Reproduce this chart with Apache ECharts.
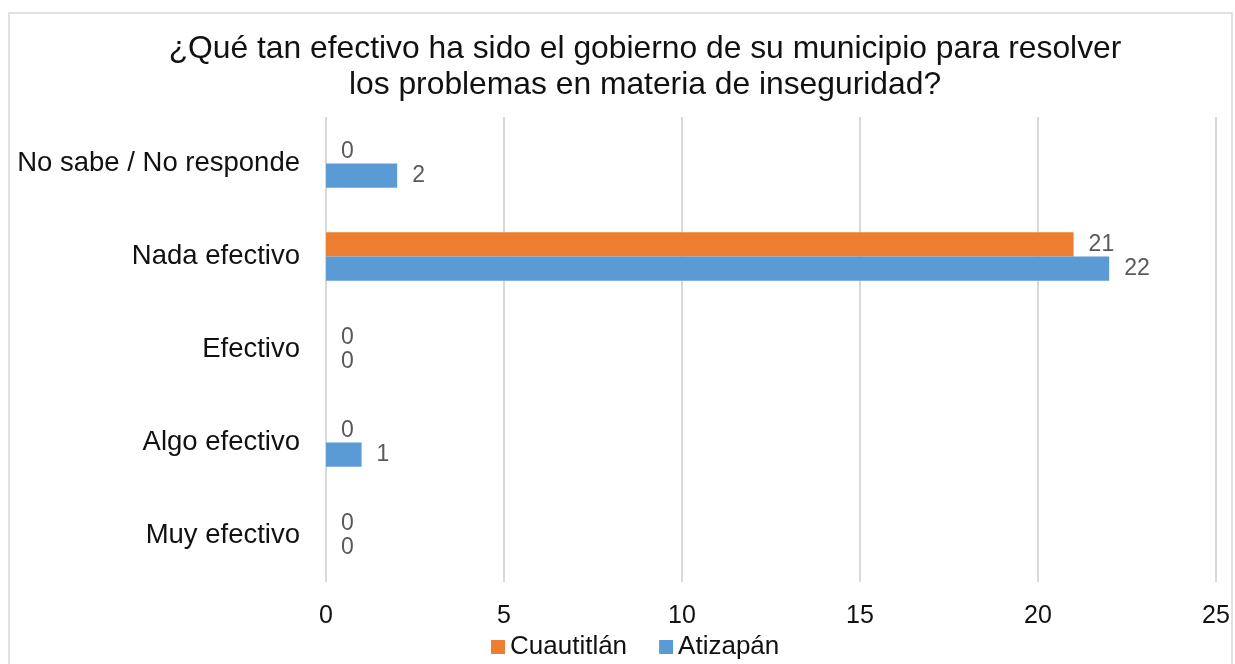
<!DOCTYPE html>
<html>
<head>
<meta charset="utf-8">
<script src="https://cdn.jsdelivr.net/npm/echarts@6/dist/echarts.min.js"></script>
<style>
  html, body { margin: 0; padding: 0; background: #fff; }
  #chart { width: 1235px; height: 664px; }
</style>
</head>
<body>
<div id="chart"></div>
<script>
// categories, bottom to top (as the y axis draws them)
const categorias = ['Muy efectivo', 'Algo efectivo', 'Efectivo', 'Nada efectivo', 'No sabe / No responde'];
const cuautitlan = [0, 0, 0, 21, 0];
const atizapan = [0, 1, 0, 22, 2];
const xTicks = [0, 5, 10, 15, 20, 25];

const font = "'Liberation Sans', Arial, sans-serif";
const chart = echarts.init(document.getElementById('chart'));

const labelOpt = {
    show: true,
    position: 'right',
    distance: 15,
    color: '#595959',
    fontSize: 23,
    fontFamily: font
};

chart.setOption({
    animation: false,
    title: {
        text: '¿Qué tan efectivo ha sido el gobierno de su municipio para resolver\nlos problemas en materia de inseguridad?',
        left: 640,
        top: 26,
        textAlign: 'center',
        textStyle: {
            fontSize: 31.8,
            fontWeight: 'normal',
            color: '#111',
            fontFamily: font,
            lineHeight: 36
        }
    },
    graphic: [{
        type: 'rect',
        shape: { x: 9, y: 13, width: 1223, height: 680 },
        style: { fill: 'none', stroke: '#d9d9d9', lineWidth: 1.5 },
        silent: true
    }],
    legend: {
        top: 634,
        left: 491,
        padding: 0,
        itemWidth: 14,
        itemHeight: 14,
        itemGap: 32,
        icon: 'rect',
        textStyle: { fontSize: 26, color: '#111', fontFamily: font },
        data: ['Cuautitlán', 'Atizapán']
    },
    grid: {
        left: 326,
        right: 19,
        top: 117,
        bottom: 82
    },
    xAxis: {
        type: 'value',
        min: xTicks[0],
        max: xTicks[xTicks.length - 1],
        interval: 5,
        axisLine: { show: false },
        axisTick: { show: false },
        splitLine: { lineStyle: { color: '#d9d9d9', width: 2 } },
        axisLabel: { fontSize: 25, color: '#111', fontFamily: font, margin: 22 }
    },
    yAxis: {
        type: 'category',
        data: categorias,
        axisLine: { show: false },
        axisTick: { show: false },
        axisLabel: { fontSize: 27.5, color: '#111', fontFamily: font, margin: 26 }
    },
    series: [
        {
            name: 'Cuautitlán',
            type: 'bar',
            data: cuautitlan,
            itemStyle: { color: '#ED7D31' },
            barGap: '0%',
            barCategoryGap: '48%',
            label: labelOpt
        },
        {
            name: 'Atizapán',
            type: 'bar',
            data: atizapan,
            itemStyle: { color: '#5B9BD5' },
            label: labelOpt
        }
    ]
});
</script>
</body>
</html>
